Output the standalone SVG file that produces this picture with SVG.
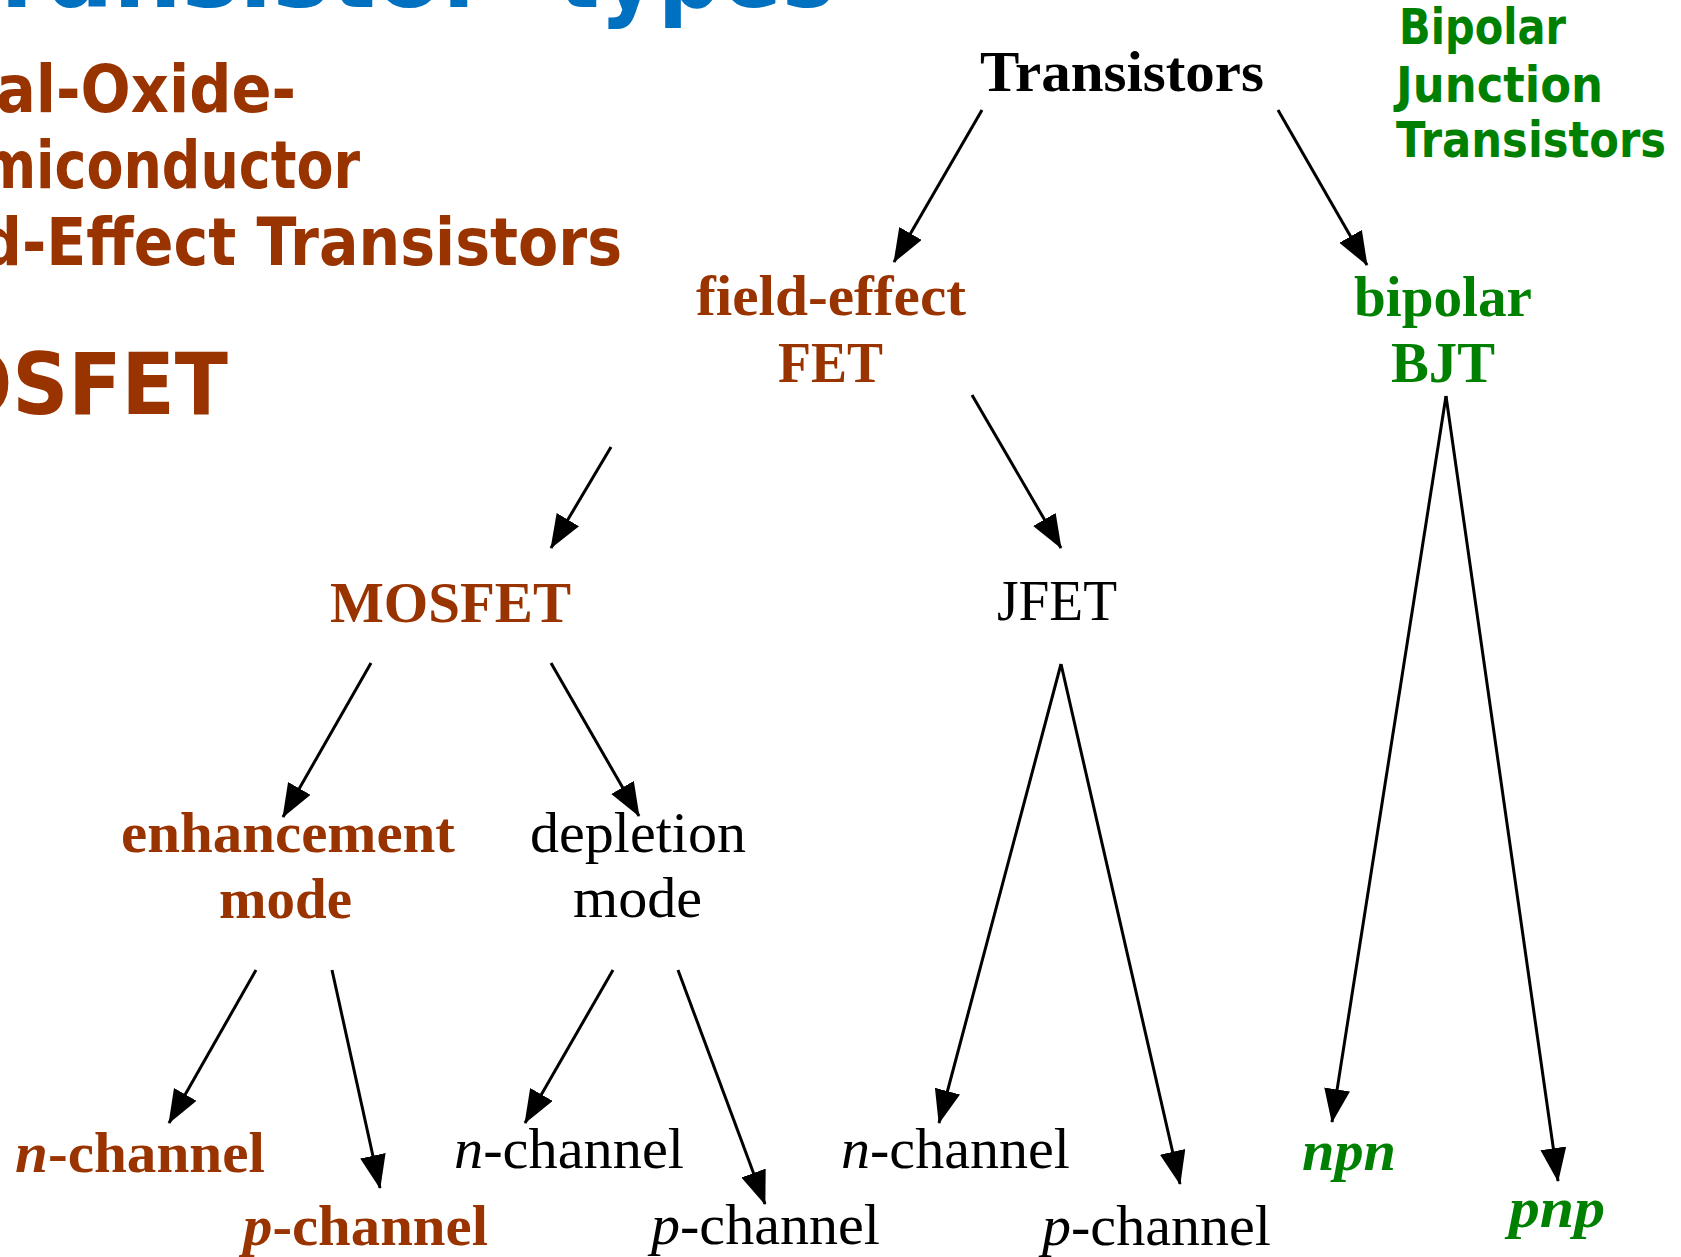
<svg xmlns="http://www.w3.org/2000/svg" width="1681" height="1257" viewBox="0 0 1681 1257">
<style>
.title{font-family:"DejaVu Sans","Liberation Sans",sans-serif;font-weight:bold;fill:#0070C0}
.side{font-family:"DejaVu Sans","Liberation Sans",sans-serif;font-weight:bold}
.brown{fill:#993300}
.green{fill:#008000}
.black{fill:#000000}
.tree{font-family:"Liberation Serif","Times New Roman",serif;font-size:56px}
.b{font-weight:bold}
.i{font-style:italic}
.edge{stroke:#000;stroke-width:3;fill:none;marker-end:url(#arrow)}
</style>
<defs>
<marker id="arrow" markerUnits="userSpaceOnUse" markerWidth="36" markerHeight="30" refX="33" refY="13" orient="auto" viewBox="0 0 36 30">
<path d="M0,0 L34,13 L0,26 Z" fill="#000"/>
</marker>
</defs>
<rect width="1681" height="1257" fill="#ffffff"/>

<g id="slide-title">
<text class="title" x="-55" y="7" font-size="100" textLength="545" lengthAdjust="spacingAndGlyphs">Transistor</text>
<text class="title" x="557" y="7" font-size="100" textLength="278" lengthAdjust="spacingAndGlyphs">types</text>
</g>

<g id="mosfet-caption">
<text class="side brown" x="-4" y="112" font-size="66" textLength="300" lengthAdjust="spacingAndGlyphs">al-Oxide-</text>
<text class="side brown" x="-20" y="188" font-size="66" textLength="380" lengthAdjust="spacingAndGlyphs">miconductor</text>
<text class="side brown" x="-20" y="265" font-size="66" textLength="642" lengthAdjust="spacingAndGlyphs">d-Effect Transistors</text>
<text class="side brown" x="-54" y="414" font-size="86" textLength="282" lengthAdjust="spacingAndGlyphs">OSFET</text>
</g>

<g id="bjt-caption">
<text class="side green" x="1399" y="44" font-size="49" textLength="167" lengthAdjust="spacingAndGlyphs">Bipolar</text>
<text class="side green" x="1396" y="102" font-size="49" textLength="207" lengthAdjust="spacingAndGlyphs">Junction</text>
<text class="side green" x="1396" y="157" font-size="49" textLength="270" lengthAdjust="spacingAndGlyphs">Transistors</text>
</g>

<g id="connectors">
<path class="edge" d="M982,110 L894,262"/>
<path class="edge" d="M1278,110 L1367,265"/>
<path class="edge" d="M611,447 L551,548"/>
<path class="edge" d="M972,395 L1061,548"/>
<path class="edge" d="M1446,396 L1332,1122"/>
<path class="edge" d="M1446,396 L1558,1181"/>
<path class="edge" d="M371,663 L283,817"/>
<path class="edge" d="M551,663 L639,816"/>
<path class="edge" d="M1061,664 L939,1123"/>
<path class="edge" d="M1061,664 L1180,1184"/>
<path class="edge" d="M256,970 L169,1123"/>
<path class="edge" d="M332,970 L380,1188"/>
<path class="edge" d="M613,970 L525,1123"/>
<path class="edge" d="M678,970 L765,1204"/>
</g>

<g id="node-transistors">
<text class="tree b black" x="980" y="91" font-size="57" textLength="284" lengthAdjust="spacingAndGlyphs">Transistors</text>
</g>
<g id="node-fet">
<text class="tree b brown" x="696" y="315" textLength="270" lengthAdjust="spacingAndGlyphs">field-effect</text>
<text class="tree b brown" x="778" y="382" textLength="105" lengthAdjust="spacingAndGlyphs">FET</text>
</g>
<g id="node-bjt">
<text class="tree b green" x="1354" y="316" textLength="178" lengthAdjust="spacingAndGlyphs">bipolar</text>
<text class="tree b green" x="1391" y="382" textLength="104" lengthAdjust="spacingAndGlyphs">BJT</text>
</g>
<g id="node-mosfet">
<text class="tree b brown" x="330" y="622" textLength="241" lengthAdjust="spacingAndGlyphs">MOSFET</text>
</g>
<g id="node-jfet">
<text class="tree black" x="997" y="620" textLength="120" lengthAdjust="spacingAndGlyphs">JFET</text>
</g>
<g id="node-enhancement">
<text class="tree b brown" x="121" y="852" textLength="334" lengthAdjust="spacingAndGlyphs">enhancement</text>
<text class="tree b brown" x="219" y="918" textLength="133" lengthAdjust="spacingAndGlyphs">mode</text>
</g>
<g id="node-depletion">
<text class="tree black" x="530" y="852" textLength="216" lengthAdjust="spacingAndGlyphs">depletion</text>
<text class="tree black" x="573" y="917" textLength="129" lengthAdjust="spacingAndGlyphs">mode</text>
</g>
<g id="node-enh-n">
<text class="tree b brown" x="15" y="1172" textLength="250" lengthAdjust="spacingAndGlyphs"><tspan class="i">n</tspan>-channel</text>
</g>
<g id="node-enh-p">
<text class="tree b brown" x="243" y="1245" textLength="245" lengthAdjust="spacingAndGlyphs"><tspan class="i">p</tspan>-channel</text>
</g>
<g id="node-dep-n">
<text class="tree black" x="454" y="1168" textLength="230" lengthAdjust="spacingAndGlyphs"><tspan class="i">n</tspan>-channel</text>
</g>
<g id="node-dep-p">
<text class="tree black" x="651" y="1244" textLength="229" lengthAdjust="spacingAndGlyphs"><tspan class="i">p</tspan>-channel</text>
</g>
<g id="node-jfet-n">
<text class="tree black" x="841" y="1168" textLength="229" lengthAdjust="spacingAndGlyphs"><tspan class="i">n</tspan>-channel</text>
</g>
<g id="node-jfet-p">
<text class="tree black" x="1042" y="1245" textLength="229" lengthAdjust="spacingAndGlyphs"><tspan class="i">p</tspan>-channel</text>
</g>
<g id="node-npn">
<text class="tree b i green" x="1302" y="1170" textLength="94" lengthAdjust="spacingAndGlyphs">npn</text>
</g>
<g id="node-pnp">
<text class="tree b i green" x="1509" y="1227" textLength="96" lengthAdjust="spacingAndGlyphs">pnp</text>
</g>
</svg>
